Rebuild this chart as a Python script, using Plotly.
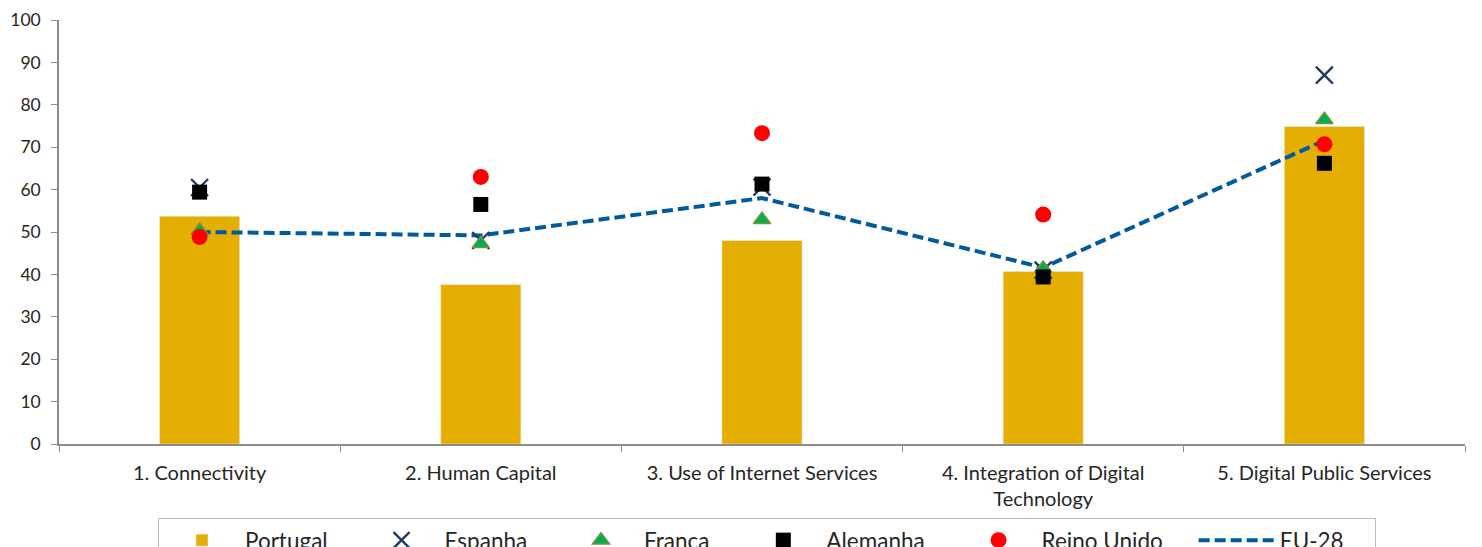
import plotly.graph_objects as go

categories = ["1. Connectivity", "2. Human Capital", "3. Use of Internet Services",
              "4. Integration of Digital<br>Technology", "5. Digital Public Services"]
portugal = [53.7, 37.6, 48.0, 40.7, 74.9]
espanha = [60.5, 48.0, 60.6, 41.0, 87.0]
franca = [50.3, 47.2, 52.9, 41.4, 76.5]
alemanha = [59.4, 56.5, 61.3, 39.4, 66.2]
reino_unido = [48.8, 63.0, 73.3, 54.1, 70.7]
eu28 = [50.0, 49.2, 58.0, 41.6, 71.6]
y_ticks = list(range(0, 101, 10))

PAD = "\u00a0" * 4 + "\u2009"

fig = go.Figure()
fig.add_trace(go.Bar(x=categories, y=portugal, name="Portugal" + PAD, marker_color="#E5AE03",
                     width=0.285, legendrank=1))
fig.add_trace(go.Scatter(x=categories, y=eu28, name="EU-28" + PAD, mode="lines",
                         line=dict(color="#005A9E", width=4, dash="11px,5px"), legendrank=6))
fig.add_trace(go.Scatter(x=categories, y=espanha, name="Espanha" + PAD, mode="markers",
                         marker=dict(symbol="x-thin", size=17, line=dict(color="#1F3864", width=2.3)),
                         legendrank=2))
fig.add_trace(go.Scatter(x=categories, y=franca, name="França" + PAD, mode="markers",
                         marker=dict(symbol="triangle-up", size=15, color="#00B050",
                                     line=dict(color="#77933C", width=1.5)), legendrank=3))
fig.add_trace(go.Scatter(x=categories, y=alemanha, name="Alemanha" + PAD, mode="markers",
                         marker=dict(symbol="square", size=15, color="#000000"), legendrank=4))
fig.add_trace(go.Scatter(x=categories, y=reino_unido, name="Reino Unido" + PAD, mode="markers",
                         marker=dict(symbol="circle", size=16, color="#FF0000"), legendrank=5))

fig.update_layout(
    width=1482, height=547,
    margin=dict(l=51, r=25, t=12, b=111, autoexpand=False),
    paper_bgcolor="white", plot_bgcolor="white",
    font=dict(family="Lato, Carlito, sans-serif", color="#262626"),
    showlegend=True,
    hovermode=False,
    legend=dict(orientation="h", x=150 / 1482, y=(547 - 510) / 547, xref="container",
                yref="container", xanchor="left", yanchor="top",
                bordercolor="#BFBFBF", borderwidth=1, font=dict(size=22.5),
                itemwidth=76, traceorder="normal"),
    xaxis=dict(type="category", showline=True, linecolor="#8C8C8C", linewidth=1.5,
               ticks="outside", tickson="boundaries", ticklen=6, tickcolor="#8C8C8C",
               tickfont=dict(size=20), ticklabelstandoff=10, showgrid=False,
               range=[-0.5, 4.5]),
    yaxis=dict(range=[0, 100], tickvals=y_ticks, showline=True, linecolor="#8C8C8C",
               linewidth=1.5, ticks="outside", ticklen=6, tickcolor="#8C8C8C",
               tickfont=dict(size=17.5), ticklabelstandoff=7, ticklabeloverflow="allow",
               showgrid=False, zeroline=False),
)
fig.write_html("out.html")
